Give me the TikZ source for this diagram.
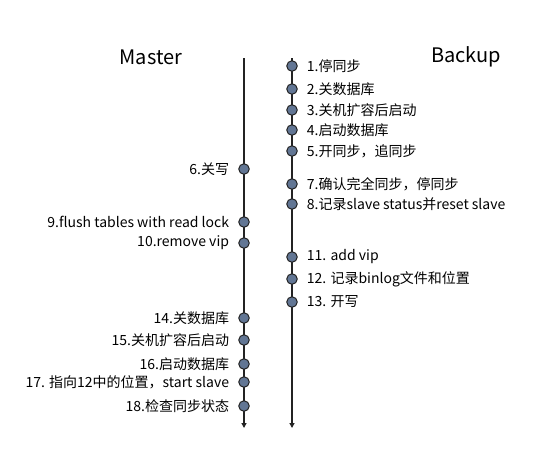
\documentclass[tikz,border=0pt]{standalone}
\usepackage{fontspec}
\setmainfont{Noto Sans CJK SC}
\usetikzlibrary{
    arrows.meta,
    positioning
}
\definecolor{dotblue}{RGB}{98,118,148}
\definecolor{linegray}{RGB}{35,35,35}
\tikzset{
    % Timeline styles
    time line/.style={
        -{Triangle[width=5pt,length=5pt]},
        line width=1.2pt,
        linegray
    },
    event dot/.style={
        circle,
        draw=linegray,
        fill=dotblue,
        line width=1pt,
        minimum size=10.5pt,
        inner sep=0pt
    },
    % Text styles
    title text/.style={
        font=\fontsize{20}{24}\selectfont
    },
    note text/.style={
        inner sep=0pt,
        font=\fontsize{14}{16}\selectfont
    }
}

\begin{document}
\begin{tikzpicture}[x=1pt, y=-1pt, node distance=9pt]
        \useasboundingbox (0,0) rectangle (559,472);

        % Titles
        \node[title text] (master) at (151,57) {Master};
        \node[title text] (backup) at (466,57) {Backup};

        % Time lines
        \coordinate (mtop) at (244,58);
        \coordinate (mend) at (244,428);
        \coordinate (btop) at (292,58);
        \coordinate (bend) at (292,428);
        \draw[time line] (mtop) -- (mend);
        \draw[time line] (btop) -- (bend);

        % Backup steps
        \node[event dot] (b1) at (292,66) {};
        \node[event dot] (b2) at (292,89) {};
        \node[event dot] (b3) at (292,110) {};
        \node[event dot] (b4) at (292,130) {};
        \node[event dot] (b5) at (292,151) {};
        \node[event dot] (b7) at (292,184) {};
        \node[event dot] (b8) at (292,204) {};
        \node[event dot] (b11) at (292,257) {};
        \node[event dot] (b12) at (292,279) {};
        \node[event dot] (b13) at (292,302) {};

        \node[note text, right=of b1] (l1) {1.停同步};
        \node[note text, right=of b2] (l2) {2.关数据库};
        \node[note text, right=of b3] (l3) {3.关机扩容后启动};
        \node[note text, right=of b4] (l4) {4.启动数据库};
        \node[note text, right=of b5] (l5) {5.开同步，追同步};
        \node[note text, right=of b7] (l7) {7.确认完全同步，停同步};
        \node[note text, right=of b8] (l8) {8.记录slave status并reset slave};
        \node[note text, right=of b11] (l11) {11. add vip};
        \node[note text, right=of b12] (l12) {12. 记录binlog文件和位置};
        \node[note text, right=of b13] (l13) {13. 开写};

        % Master steps
        \node[event dot] (m6) at (244,169) {};
        \node[event dot] (m9) at (244,222) {};
        \node[event dot] (m10) at (244,243) {};
        \node[event dot] (m14) at (244,318) {};
        \node[event dot] (m15) at (244,340) {};
        \node[event dot] (m16) at (244,364) {};
        \node[event dot] (m17) at (244,382) {};
        \node[event dot] (m18) at (244,406) {};

        \node[note text, left=of m6] (l6) {6.关写};
        \node[note text, left=of m9] (l9) {9.flush tables with read lock};
        \node[note text, left=of m10] (l10) {10.remove vip};
        \node[note text, left=of m14] (l14) {14.关数据库};
        \node[note text, left=of m15] (l15) {15.关机扩容后启动};
        \node[note text, left=of m16] (l16) {16.启动数据库};
        \node[note text, left=of m17] (l17) {17. 指向12中的位置，start slave};
        \node[note text, left=of m18] (l18) {18.检查同步状态};
    \end{tikzpicture}
\end{document}
